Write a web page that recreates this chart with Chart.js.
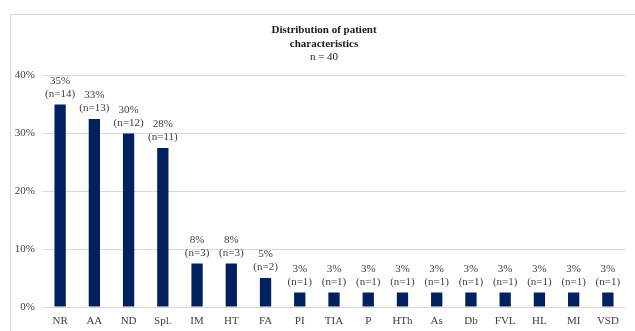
<!DOCTYPE html>
<html>
<head>
<meta charset="utf-8">
<script src="https://cdn.jsdelivr.net/npm/chart.js@4/dist/chart.umd.min.js"></script>
<style>
  html, body { margin: 0; padding: 0; background: #ffffff; }
  #wrap { width: 635px; height: 331px; position: relative; }
</style>
</head>
<body>
<div id="wrap"><canvas id="chart"></canvas></div>
<script>
// Patient characteristics, n = 40
const categories = ['NR', 'AA', 'ND', 'Spl.', 'IM', 'HT', 'FA', 'PI', 'TIA', 'P', 'HTh', 'As', 'Db', 'FVL', 'HL', 'MI', 'VSD'];
const patientCounts = [14, 13, 12, 11, 3, 3, 2, 1, 1, 1, 1, 1, 1, 1, 1, 1, 1];
const percentShares = [35, 32.5, 30, 27.5, 7.5, 7.5, 5, 2.5, 2.5, 2.5, 2.5, 2.5, 2.5, 2.5, 2.5, 2.5, 2.5];
const yTickValues = [0, 10, 20, 30, 40];

const serif = "'Liberation Serif', 'Times New Roman', serif";
const textColor = '#404040';

// Light frame around the chart panel
const framePlugin = {
  id: 'panelFrame',
  beforeDraw(chart) {
    const ctx = chart.ctx;
    ctx.save();
    ctx.strokeStyle = '#d9d9d9';
    ctx.lineWidth = 1;
    ctx.strokeRect(10.5, 14.5, 700, 400);
    ctx.restore();
  }
};

// Centre the heading blocks over the plot rather than the whole canvas
const headingShift = {
  id: 'headingShift',
  afterLayout(chart) {
    chart.boxes.forEach(b => {
      if (b.position === 'top' && b.options && b.options.text !== undefined) {
        b.left += 13;
      }
    });
  }
};

// Two-line value labels above each bar: "35%" and "(n=14)"
const barLabelPlugin = {
  id: 'barLabels',
  afterDatasetsDraw(chart) {
    const ctx = chart.ctx;
    const meta = chart.getDatasetMeta(0);
    const values = chart.data.datasets[0].data;
    ctx.save();
    ctx.font = '11px ' + serif;
    ctx.fillStyle = textColor;
    ctx.textAlign = 'center';
    ctx.textBaseline = 'middle';
    meta.data.forEach((bar, i) => {
      const pct = Math.round(values[i]) + '%';
      const n = '(n=' + patientCounts[i] + ')';
      ctx.fillText(n, bar.x, bar.y - 10.5);
      ctx.fillText(pct, bar.x, bar.y - 23.5);
    });
    ctx.restore();
  }
};

new Chart(document.getElementById('chart'), {
  type: 'bar',
  data: {
    labels: categories,
    datasets: [{
      data: percentShares,
      backgroundColor: '#002060',
      borderWidth: 0,
      categoryPercentage: 1,
      barPercentage: 0.33
    }]
  },
  options: {
    responsive: true,
    maintainAspectRatio: false,
    animation: false,
    devicePixelRatio: 1,
    layout: { padding: { left: 10, right: 10, top: 0, bottom: 0 } },
    plugins: {
      legend: { display: false },
      tooltip: { enabled: false },
      title: {
        display: true,
        text: ['Distribution of patient', 'characteristics'],
        color: '#1a1a1a',
        font: { family: serif, size: 11, weight: 'bold', lineHeight: 1.2 },
        padding: { top: 24, bottom: 0 }
      },
      subtitle: {
        display: true,
        text: 'n = 40',
        color: '#1a1a1a',
        font: { family: serif, size: 11, weight: 'normal', lineHeight: 1.2 },
        padding: { top: 0, bottom: 12 }
      }
    },
    scales: {
      x: {
        afterFit(scale) { scale.height = 24; },
        grid: { display: false, drawTicks: false },
        border: { display: false },
        ticks: { color: textColor, font: { family: serif, size: 11 }, padding: 8, maxRotation: 0, autoSkip: false }
      },
      y: {
        min: 0,
        max: 40,
        afterFit(scale) { scale.width = 33; },
        afterBuildTicks(scale) { scale.ticks = yTickValues.map(v => ({ value: v })); },
        grid: { color: '#d9d9d9', lineWidth: 1, drawTicks: false },
        border: { display: false },
        ticks: {
          color: textColor,
          font: { family: serif, size: 11 },
          padding: 8,
          callback: v => v + '%'
        }
      }
    }
  },
  plugins: [framePlugin, headingShift, barLabelPlugin]
});
</script>
</body>
</html>
